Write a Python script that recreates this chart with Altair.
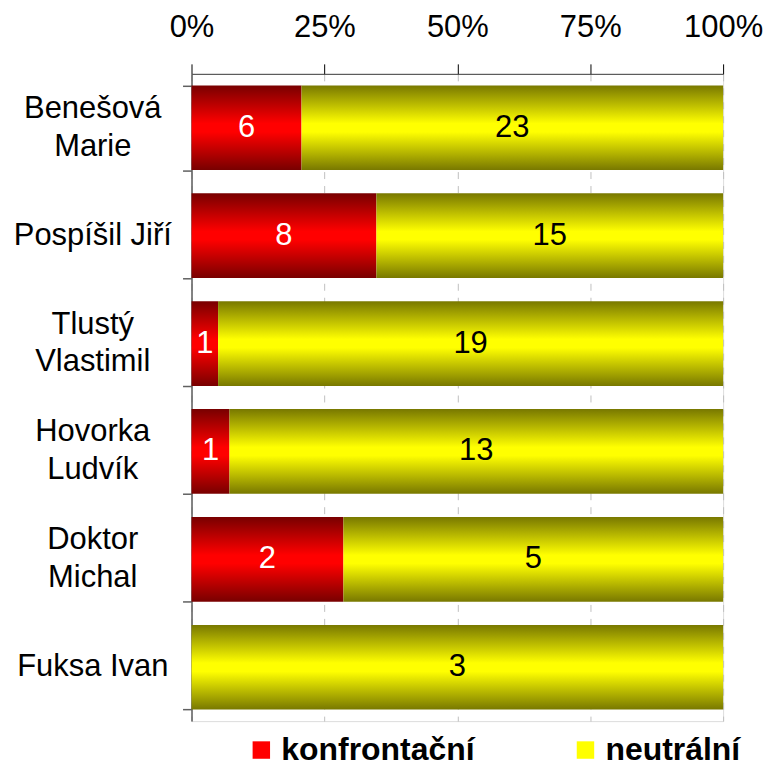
import altair as alt
import pandas as pd

names = ["Benešová|Marie", "Pospíšil Jiří", "Tlustý|Vlastimil", "Hovorka|Ludvík", "Doktor|Michal", "Fuksa Ivan"]
series = ["konfrontační", "neutrální"]
konfrontacni = [6, 8, 1, 1, 2, 0]
neutralni = [23, 15, 19, 13, 5, 3]
tick_values = [0, 0.25, 0.5, 0.75, 1]

rows = []
for i, n in enumerate(names):
    rows.append({"name": n, "series": series[0], "count": konfrontacni[i], "order": 0})
    rows.append({"name": n, "series": series[1], "count": neutralni[i], "order": 1})
df = pd.DataFrame(rows)
name_df = pd.DataFrame({"name": names})

FONT = "Liberation Sans"

red_grad = alt.Gradient(
    gradient="linear", x1=0, x2=0, y1=0, y2=1,
    stops=[alt.GradientStop(color="#780000", offset=0),
           alt.GradientStop(color="#ff0000", offset=0.45),
           alt.GradientStop(color="#ff0000", offset=0.55),
           alt.GradientStop(color="#780000", offset=1)])
yel_grad = alt.Gradient(
    gradient="linear", x1=0, x2=0, y1=0, y2=1,
    stops=[alt.GradientStop(color="#787800", offset=0),
           alt.GradientStop(color="#ffff00", offset=0.45),
           alt.GradientStop(color="#ffff00", offset=0.55),
           alt.GradientStop(color="#787800", offset=1)])

y_enc = alt.Y("name:N", sort=names,
              scale=alt.Scale(paddingInner=0.215, paddingOuter=0.107),
              axis=alt.Axis(title=None, orient="left", tickBand="extent", labels=False,
                            tickSize=9, tickColor="#606060", domainColor="#606060",
                            domainWidth=1.5, tickWidth=1.5, grid=False))
y_plain = alt.Y("name:N", sort=names)

base = alt.Chart(df).transform_stack(
    stack="count", groupby=["name"], as_=["x0", "x1"], offset="normalize",
    sort=[alt.SortField("order", order="ascending")]
).transform_calculate(mid="(datum.x0 + datum.x1) / 2")

x_enc = alt.X("x0:Q", scale=alt.Scale(domain=[0, 1]),
              axis=alt.Axis(title=None, orient="top", values=tick_values, format=".0%",
                            labelFontSize=31, labelFont=FONT, labelColor="black",
                            labelPadding=20, tickSize=10, tickColor="black",
                            domainColor="#404040", grid=True, gridColor="#c0c0c0",
                            gridDash=[7, 7], labelFlush=False))

red_bars = base.transform_filter(alt.datum.series == series[0]).mark_bar(fill=red_grad).encode(
    x=x_enc, x2="x1:Q", y=y_enc)
yel_bars = base.transform_filter(alt.datum.series == series[1]).mark_bar(fill=yel_grad).encode(
    x="x0:Q", x2="x1:Q", y=y_plain)

red_text = base.transform_filter((alt.datum.series == series[0]) & (alt.datum.count > 0)).mark_text(
    font=FONT, fontSize=31, color="white", baseline="middle").encode(
    x="mid:Q", y=y_plain, text="count:Q")
yel_text = base.transform_filter((alt.datum.series == series[1]) & (alt.datum.count > 0)).mark_text(
    font=FONT, fontSize=31, color="black", baseline="middle").encode(
    x="mid:Q", y=y_plain, text="count:Q")

# category labels (left of the axis)
lab_base = alt.Chart(name_df).transform_calculate(lbl="split(datum.name, '|')")
lab_two = lab_base.transform_filter("indexof(datum.name, '|') >= 0").mark_text(
    font=FONT, fontSize=31, color="black", align="center", baseline="middle",
    lineHeight=38, dy=-19).encode(x=alt.value(-99), y=y_plain, text="lbl:N")
lab_one = lab_base.transform_filter("indexof(datum.name, '|') < 0").mark_text(
    font=FONT, fontSize=31, color="black", align="center", baseline="middle").encode(
    x=alt.value(-99), y=y_plain, text="lbl:N")

legend_layer = base.mark_square(opacity=0).encode(
    x="x0:Q", y=y_plain,
    color=alt.Color("series:N",
                    scale=alt.Scale(domain=series, range=["#ff0000", "#ffff00"]),
                    legend=alt.Legend(title=None, orient="none", direction="horizontal",
                                      legendX=54, legendY=662, symbolType="square",
                                      symbolSize=306, symbolOpacity=1, symbolStrokeWidth=0,
                                      labelFont=FONT, labelFontSize=32, labelFontWeight="bold",
                                      labelColor="black", labelOffset=4, columnPadding=95,
                                      labelLimit=400)))

chart = alt.layer(red_bars, yel_bars, red_text, yel_text, lab_two, lab_one, legend_layer).properties(
    width=533, height=649,
    autosize=alt.AutoSizeParams(type="none"),
    padding={"left": 184, "top": 65, "right": 40, "bottom": 50},
).configure_view(stroke=None).configure(background="white")

chart.save("out.html", embed_options={"renderer": "svg", "actions": False})
